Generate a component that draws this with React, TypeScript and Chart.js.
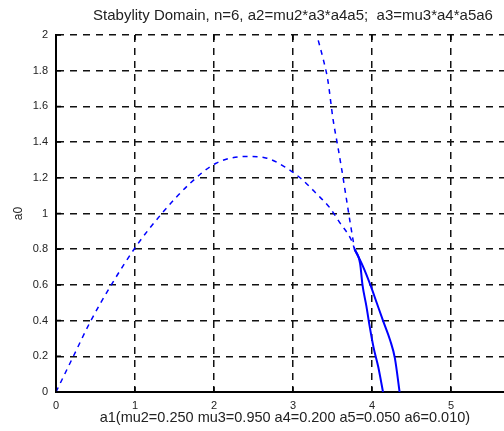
import React, { useEffect, useRef } from "react";
import { Chart, registerables } from "chart.js";

Chart.register(...registerables);

const titleText = "Stabylity Domain, n=6, a2=mu2*a3*a4a5;  a3=mu3*a4*a5a6";
const xTitle = "a1(mu2=0.250 mu3=0.950 a4=0.200 a5=0.050 a6=0.010)";
const yTitle = "a0";

const xTicks = [0, 1, 2, 3, 4, 5, 6];
const yTicks = [0, 0.2, 0.4, 0.6, 0.8, 1, 1.2, 1.4, 1.6, 1.8, 2];

// dashed hump branch
const humpX = [0, 0.22, 0.43, 0.7, 1.02, 1.34, 1.7, 2.02, 2.41, 2.67, 2.9, 3.09, 3.3, 3.47, 3.59, 3.74, 3.78];
const humpY = [0, 0.2, 0.39, 0.6, 0.82, 1.0, 1.17, 1.28, 1.32, 1.31, 1.26, 1.2, 1.11, 1.03, 0.95, 0.85, 0.8];

// dashed steep branch
const steepX = [3.32, 3.38, 3.44, 3.51, 3.57, 3.62, 3.67, 3.72, 3.78];
const steepY = [1.97, 1.87, 1.75, 1.52, 1.37, 1.24, 1.1, 0.96, 0.8];

// solid branches
const solidAX = [3.78, 3.85, 3.88, 3.93, 3.97, 4.02, 4.08, 4.14];
const solidAY = [0.8, 0.72, 0.6, 0.48, 0.37, 0.25, 0.14, 0];
const solidBX = [3.78, 3.89, 3.98, 4.06, 4.14, 4.23, 4.29, 4.35];
const solidBY = [0.8, 0.7, 0.6, 0.5, 0.4, 0.29, 0.19, 0];

const pts = (xs: number[], ys: number[]) => xs.map((x, i) => ({ x, y: ys[i] }));

const BLUE = "#0000ff";
const FONT = "'Liberation Sans', Arial, sans-serif";

const inwardTicks = {
  id: "inwardTicks",
  afterDraw(chart: any) {
    const { ctx, chartArea, scales } = chart;
    const xs = scales.x;
    const ys = scales.y;
    const L = 5;
    ctx.save();
    ctx.strokeStyle = "#000";
    ctx.lineWidth = 1.5;
    ctx.beginPath();
    xTicks.forEach((v) => {
      const px = xs.getPixelForValue(v);
      ctx.moveTo(px, chartArea.bottom);
      ctx.lineTo(px, chartArea.bottom - L);
      ctx.moveTo(px, chartArea.top);
      ctx.lineTo(px, chartArea.top + L);
    });
    yTicks.forEach((v) => {
      const py = ys.getPixelForValue(v);
      ctx.moveTo(chartArea.left, py);
      ctx.lineTo(chartArea.left + L, py);
    });
    ctx.stroke();
    ctx.restore();
  },
};

export default function App() {
  const ref = useRef<HTMLCanvasElement>(null);
  useEffect(() => {
    if (!ref.current) return;
    const mk = (xs: number[], ys: number[], dashed: boolean) => ({
      data: pts(xs, ys),
      showLine: true,
      borderColor: BLUE,
      backgroundColor: BLUE,
      borderWidth: dashed ? 1.5 : 2,
      borderDash: dashed ? [5, 5] : [],
      pointRadius: 0,
      fill: false,
      cubicInterpolationMode: "monotone",
    });
    const chart = new Chart(ref.current, {
      type: "scatter",
      data: {
        datasets: [
          mk(humpX, humpY, true),
          mk(steepX, steepY, true),
          mk(solidAX, solidAY, false),
          mk(solidBX, solidBY, false),
        ],
      },
      plugins: [inwardTicks],
      options: {
        responsive: false,
        animation: false,
        devicePixelRatio: 1,
        layout: { padding: { left: 0, right: 10, top: 0, bottom: 0 } },
        plugins: {
          legend: { display: false },
          tooltip: { enabled: false },
          title: {
            display: true,
            text: titleText,
            fullSize: false,
            color: "#222",
            font: { family: FONT, size: 15, weight: "normal", lineHeight: 1.2 },
            padding: { top: 7, bottom: 10 },
          },
        },
        scales: {
          x: {
            type: "linear",
            min: 0,
            max: 6,
            afterBuildTicks: (s: any) => {
              s.ticks = xTicks.map((v) => ({ value: v }));
            },
            afterFit: (s: any) => {
              s.height = 39;
            },
            ticks: {
              color: "#222",
              padding: 7,
              font: { family: FONT, size: 11 },
              callback: (v: any) => String(v),
            },
            grid: { color: "#111", lineWidth: 1.5, drawTicks: false },
            border: { display: true, color: "#000", width: 2, dash: [7, 6] },
            title: {
              display: true,
              text: xTitle + "    ",
              color: "#222",
              font: { family: FONT, size: 14.5, lineHeight: 1.2 },
              padding: { top: 0, bottom: 4 },
            },
          },
          y: {
            type: "linear",
            min: 0,
            max: 2,
            afterBuildTicks: (s: any) => {
              s.ticks = yTicks.map((v) => ({ value: v }));
            },
            afterFit: (s: any) => {
              s.width = 56;
            },
            ticks: {
              color: "#222",
              padding: 8,
              font: { family: FONT, size: 11 },
              callback: (v: any) => String(v),
            },
            grid: { color: "#111", lineWidth: 1.5, drawTicks: false },
            border: { display: true, color: "#000", width: 2, dash: [7, 6] },
            title: {
              display: true,
              text: yTitle,
              color: "#222",
              font: { family: FONT, size: 12, lineHeight: 1.2 },
              padding: { top: 11, bottom: 0 },
            },
          },
        },
      },
    } as any);
    return () => chart.destroy();
  }, []);
  return (
    <div
      style={{
        position: "fixed",
        left: 0,
        top: 0,
        width: 504,
        height: 431,
        overflow: "hidden",
        background: "#fff",
      }}
    >
      <canvas ref={ref} width={540} height={431} style={{ display: "block" }} />
    </div>
  );
}
